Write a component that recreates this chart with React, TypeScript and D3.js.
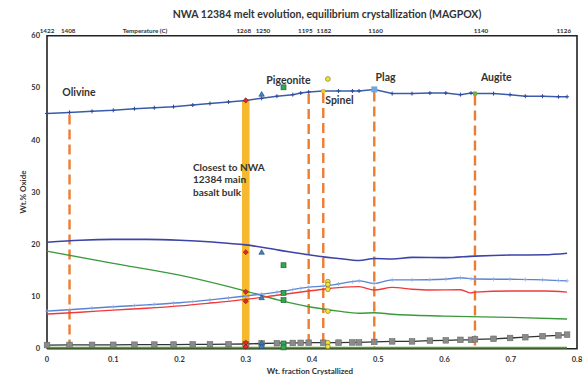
import React from "react";
import * as d3 from "d3";

const fracs = [0, 0.034, 0.068, 0.1, 0.132, 0.162, 0.191, 0.22, 0.246, 0.274, 0.3, 0.324, 0.347, 0.371, 0.383, 0.395, 0.417, 0.44, 0.461, 0.471, 0.494, 0.521, 0.551, 0.578, 0.602, 0.624, 0.64, 0.646, 0.674, 0.699, 0.722, 0.748, 0.772, 0.785];
const sio2 = [45.1, 45.3, 45.5, 45.7, 46.0, 46.2, 46.4, 46.7, 47.0, 47.3, 47.6, 48.0, 48.4, 48.7, 49.0, 49.2, 49.4, 49.4, 49.4, 49.4, 49.7, 48.9, 48.9, 49.0, 49.0, 48.7, 49.0, 48.9, 48.9, 48.7, 48.4, 48.4, 48.3, 48.3];
const grayVals = [0.7, 0.72, 0.74, 0.75, 0.77, 0.79, 0.8, 0.82, 0.84, 0.86, 0.9, 1.0, 1.05, 1.1, 1.12, 1.15, 1.15, 1.17, 1.2, 1.2, 1.3, 1.4, 1.4, 1.55, 1.6, 1.7, 1.7, 1.8, 1.9, 2.05, 2.2, 2.4, 2.55, 2.7];

const al2o3X = [0, 0.05, 0.1, 0.15, 0.2, 0.25, 0.3, 0.35, 0.395, 0.417, 0.44, 0.471, 0.494, 0.521, 0.551, 0.6, 0.646, 0.7, 0.75, 0.785];
const al2o3 = [20.4, 20.8, 20.95, 20.95, 20.8, 20.45, 19.9, 18.9, 18.0, 17.6, 17.3, 16.9, 17.3, 17.2, 17.5, 17.45, 17.75, 17.95, 18.0, 18.3];
const mgoX = [0, 0.05, 0.1, 0.15, 0.2, 0.25, 0.3, 0.35, 0.395, 0.417, 0.44, 0.471, 0.494, 0.521, 0.551, 0.6, 0.624, 0.646, 0.7, 0.75, 0.785];
const mgo = [7.2, 7.6, 8.05, 8.4, 8.8, 9.4, 10.1, 10.9, 11.8, 12.0, 12.4, 13.0, 12.5, 13.2, 13.2, 13.3, 13.6, 13.35, 13.3, 13.2, 13.0];
const feoX = [0, 0.05, 0.1, 0.15, 0.2, 0.25, 0.3, 0.35, 0.395, 0.417, 0.44, 0.471, 0.494, 0.521, 0.551, 0.578, 0.624, 0.64, 0.646, 0.7, 0.75, 0.785];
const feo = [6.65, 7.0, 7.4, 7.75, 8.2, 8.8, 9.45, 10.3, 11.05, 11.4, 11.7, 11.9, 11.25, 11.75, 11.4, 11.25, 11.3, 10.7, 10.85, 11.05, 11.05, 10.85];
const caoX = [0, 0.1, 0.2, 0.3, 0.35, 0.395, 0.417, 0.44, 0.471, 0.494, 0.521, 0.6, 0.7, 0.785];
const cao = [18.7, 16.35, 14.1, 11.05, 9.3, 8.05, 7.6, 7.2, 6.8, 6.9, 6.6, 6.25, 6.0, 5.7];
const k2oX = [0, 0.785];
const k2o = [0.2, 0.2];

const redX = 0.3;
const redVals = [47.6, 18.5, 10.9, 9.1, 1.15, 0.35];
const triX = 0.324;
const triVals = [48.7, 18.4, 9.7, 1.0, 0.35];
const sqX = 0.357;
const sqVals = [50.1, 16.0, 10.7, 9.3, 1.0, 0.25];
const ylwX = 0.424;
const ylwVals = [51.7, 12.85, 12.3, 11.4, 7.2, 1.15, 0.4];

const dashX = [0.034, 0.395, 0.417, 0.494, 0.646];
const phaseLabels = ["Olivine", "Pigeonite", "Spinel", "Plag", "Augite"];
const phaseLabelX = [0.023, 0.331, 0.42, 0.496, 0.655];
const phaseLabelY = [48.4, 50.7, 46.9, 51.3, 51.3];

const tempLabels = ["1422", "1408", "1268", "1250", "1195", "1182", "1160", "1140", "1126"];
const tempX = [0, 0.032, 0.297, 0.326, 0.39, 0.418, 0.496, 0.655, 0.78];
const xTicks = [0, 0.1, 0.2, 0.3, 0.4, 0.5, 0.6, 0.7, 0.8];
const yTicks = [0, 10, 20, 30, 40, 50, 60];

const FONT = "Lato, 'Open Sans', sans-serif";

export default function App() {
  const x = d3.scaleLinear().domain([0, 0.8]).range([47, 577]);
  const y = d3.scaleLinear().domain([0, 60]).range([348.7, 35.7]);
  const smooth = (xs: number[], ys: number[]) =>
    d3.line<number>().x((_, i) => x(xs[i])).y((d) => y(d)).curve(d3.curveMonotoneX)(ys) || "";
  const straight = (xs: number[], ys: number[]) =>
    d3.line<number>().x((_, i) => x(xs[i])).y((d) => y(d))(ys) || "";
  const sio2At = (f: number) => {
    const i = fracs.findIndex((v) => v >= f - 0.0005);
    return sio2[Math.max(0, i)];
  };
  const diamond = d3.symbol().type(d3.symbolSquare).size(13)() || "";
  const tri = d3.symbol().type(d3.symbolTriangle).size(13)() || "";

  return (
    <svg width={583} height={377} style={{ position: "absolute", left: 0, top: 0, background: "#fff" }} fontFamily={FONT}>
      <rect x={0} y={0} width={583} height={377} fill="#fff" />
      <text x={327} y={18} textAnchor="middle" fontSize={10.5} fontWeight="bold" fill="#333">
        NWA 12384 melt evolution, equilibrium crystallization (MAGPOX)
      </text>
      {tempLabels.map((t, i) => (
        <text key={t} x={x(tempX[i])} y={33} textAnchor="middle" fontSize={6.3} fontWeight="bold" fill="#333">{t}</text>
      ))}
      <text x={145} y={33} textAnchor="middle" fontSize={6.3} fontWeight="bold" fill="#333">Temperature (C)</text>

      <rect x={x(0.3) - 3.8} y={y(47.6)} width={7.6} height={y(0) - y(47.6)} fill="#F5B82E" />

      {dashX.map((f) => (
        <line key={f} x1={x(f)} x2={x(f)} y1={y(sio2At(f)) + 2} y2={y(0)} stroke="#ED7D31" strokeWidth={2.4} strokeDasharray="10,5" />
      ))}

      <path d={`M${x(0)},${y(0)} V${y(60)} H${x(0.8)} V${y(0)} H${x(0)}`} fill="none" stroke="#222" strokeWidth={1.6} />

      <path d={straight(k2oX, k2o)} fill="none" stroke="#5B9A3A" strokeWidth={1.6} />
      <path d={smooth(al2o3X, al2o3)} fill="none" stroke="#3D44A6" strokeWidth={1.6} />
      <path d={smooth(caoX, cao)} fill="none" stroke="#3A9A3A" strokeWidth={1.4} />
      <path d={smooth(feoX, feo)} fill="none" stroke="#F03A3A" strokeWidth={1.4} />
      <path d={smooth(mgoX, mgo)} fill="none" stroke="#5A84D2" strokeWidth={1.4} />
      {fracs.map((f, i) => {
        const v = d3.scaleLinear().domain(mgoX).range(mgo)(f);
        return <path key={"m" + i} d={`M${x(f) - 2},${y(v)} h4 M${x(f)},${y(v) - 2} v4`} stroke="#8FAAE0" strokeWidth={0.7} />;
      })}
      <path d={straight(fracs, grayVals)} fill="none" stroke="#333" strokeWidth={1.3} />
      {fracs.map((f, i) => (
        <rect key={"g" + i} x={x(f) - 2.8} y={y(grayVals[i]) - 2.8} width={5.6} height={5.6} fill="#8A8A8A" stroke="#6A6A6A" strokeWidth={0.6} />
      ))}
      <path d={straight(fracs, sio2)} fill="none" stroke="#3A5CAA" strokeWidth={1.5} />
      {fracs.map((f, i) => (
        <path key={"s" + i} d={`M${x(f) - 2},${y(sio2[i])} h4 M${x(f)},${y(sio2[i]) - 2} v4`} stroke="#2C4A9A" strokeWidth={1} />
      ))}
      <rect x={x(0.417) - 2} y={y(sio2At(0.417)) - 2} width={4} height={4} fill="#F5C32E" />
      <rect x={x(0.494) - 3} y={y(sio2At(0.494)) - 3} width={6} height={6} fill="#6FA8DC" />
      <rect x={x(0.646) - 2} y={y(sio2At(0.646)) - 2} width={4} height={4} fill="#6AB04C" />

      {redVals.map((v, i) => (
        <path key={"r" + i} d={diamond} transform={`translate(${x(redX)},${y(v)}) rotate(45)`} fill="#E8262A" stroke="#7A1010" strokeWidth={0.6} />
      ))}
      {triVals.map((v, i) => (
        <path key={"t" + i} d={tri} transform={`translate(${x(triX)},${y(v)})`} fill="#3C86C8" stroke="#1F3F6A" strokeWidth={0.6} />
      ))}
      {sqVals.map((v, i) => (
        <rect key={"q" + i} x={x(sqX) - 2.5} y={y(v) - 2.5} width={5} height={5} fill="#2FA84F" stroke="#1B5E2A" strokeWidth={0.6} />
      ))}
      {ylwVals.map((v, i) => (
        <circle key={"y" + i} cx={x(ylwX)} cy={y(v)} r={2.4} fill="#F2E335" stroke="#6A6A20" strokeWidth={0.6} />
      ))}

      {phaseLabels.map((l, i) => (
        <text key={l} x={x(phaseLabelX[i])} y={y(phaseLabelY[i])} fontSize={10.5} fontWeight="bold" fill="#333">{l}</text>
      ))}
      <text x={193} fontSize={10} fontWeight="bold" fill="#333">
        <tspan x={193} y={170.5}>Closest to NWA</tspan>
        <tspan x={193} y={183}>12384 main</tspan>
        <tspan x={193} y={195.5}>basalt bulk</tspan>
      </text>

      {yTicks.map((t) => (
        <text key={t} x={40} y={y(t)} dy="0.35em" textAnchor="end" fontSize={7.5} fontWeight="bold" fill="#333">{t}</text>
      ))}
      {xTicks.map((t) => (
        <text key={t} x={x(t)} y={362} textAnchor="middle" fontSize={7.5} fontWeight="bold" fill="#333">{t === 0 ? "0" : d3.format(".1f")(t)}</text>
      ))}
      <text x={310} y={374} textAnchor="middle" fontSize={8} fontWeight="bold" fill="#333">Wt. fraction Crystallized</text>
      <text transform="translate(26,192) rotate(-90)" textAnchor="middle" fontSize={8} fontWeight="bold" fill="#333">Wt.% Oxide</text>
    </svg>
  );
}
